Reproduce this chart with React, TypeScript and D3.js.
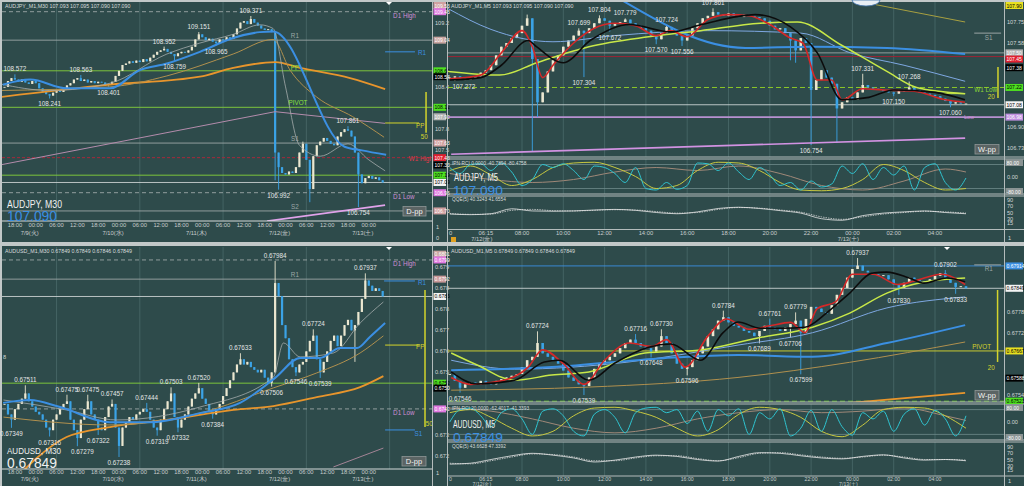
import React, { useEffect } from 'react';
import * as d3 from 'd3';

type P = [number, number];

// ---------- AUDJPY M30 (hours from 7/10 00:00, one close per hour) ----------
const jpyM30Start = -33;
const jpyM30Close = [
  108.40, 108.48, 108.52, 108.50, 108.47, 108.50, 108.46, 108.44, 108.48, 108.45, 108.38,
  108.33, 108.30, 108.28, 108.32, 108.36, 108.33, 108.38, 108.42, 108.45, 108.50, 108.52,
  108.48, 108.50, 108.46, 108.48, 108.45, 108.47, 108.46, 108.44, 108.43, 108.47, 108.55,
  // 7/10
  108.62, 108.70, 108.72, 108.75, 108.73, 108.76, 108.74, 108.78, 108.75, 108.80, 108.84, 108.88,
  108.90, 108.92, 108.88, 108.85, 108.82, 108.86, 108.88, 108.87, 108.90, 108.95, 109.05, 109.12,
  // 7/11
  109.08, 109.04, 109.06, 109.02, 109.00, 109.05, 109.04, 109.08, 109.06, 109.12, 109.20, 109.28,
  109.30, 109.26, 109.33, 109.28, 109.24, 109.20, 109.18, 109.19, 109.15, 107.50, 107.30, 107.22,
  // 7/12
  107.20, 107.24, 107.22, 107.30, 107.50, 107.62, 107.40, 107.00, 107.45, 107.60, 107.65, 107.70,
  107.66, 107.62, 107.60, 107.72, 107.78, 107.82, 107.80, 107.72, 107.50, 107.20, 107.08, 107.15,
  // 7/13
  107.18, 107.14, 107.16, 107.12, 107.09,
];
const jpyM30Peaks: P[] = [[-30, 108.572], [-11, 108.563], [13, 108.952], [23, 109.151], [38, 109.371], [66, 107.861]];
const jpyM30Troughs: P[] = [[-20, 108.241], [-3, 108.401], [16, 108.759], [28, 108.965], [46, 106.992], [69, 106.754]];
const jpyM30Wicks: P[] = [[45, 107.12], [53, 107.65], [55, 106.82]];
const jpyM30Blue: P[] = [[-33.5, 108.43], [-25.6, 108.5], [-15, 108.38], [-2.6, 108.38], [6, 108.63], [13.8, 108.72], [23.3, 108.88], [32.9, 109.07], [40.6, 109.15], [44.4, 109.16], [65, 107.58], [70, 107.53], [77, 107.47]];
const jpyM30Orange: P[] = [[-34.3, 108.26], [-2.6, 108.43], [23.3, 108.54], [32.9, 108.66], [45, 108.74], [52.2, 108.66], [66.6, 108.52], [76.7, 108.37]];
const jpyM30Tan: P[] = [[-34.3, 108.35], [-2.6, 108.4], [13.8, 108.55], [32.9, 108.85], [44.4, 109.05], [49.3, 108.63], [57, 108.26], [67.4, 107.99], [76.4, 107.71]];
const jpyM30Fast: P[] = [[-34.3, 108.44], [-20, 108.35], [-2.6, 108.45], [13.8, 108.85], [23.3, 109.0], [32.9, 109.12], [40.6, 109.25], [44.4, 109.2], [48, 108.4], [52, 107.6], [58, 107.45], [66, 107.62], [72, 107.4], [76.7, 107.25]];
const jpyM30Mauve: P[] = [[-34.3, 107.33], [45, 108.06], [76.7, 107.9]];
const jpyM30Trend: P[] = [[42.7, 106.56], [76.7, 106.78]];
const jpyM30Levels = [109.43, 109.04, 108.62, 108.12, 107.63, 107.43, 107.19, 107.09, 106.95, 106.7];
const jpyM30Short: [number, number, number][] = [[108.88, 76.7, 85.3], [107.905, 76.7, 86.5]];
const jpyM30Bar: P[] = [[88.5, 108.33], [88.5, 107.77]];
const jpyM30Ticks = [109.27, 108.98, 108.69, 108.4, 108.11, 107.82, 107.53, 107.24, 106.95, 106.66];
const jpyM30Tags = [109.535, 109.43, 109.04, 108.62, 108.54, 108.12, 107.99, 107.63, 107.43, 107.33, 107.19, 107.09, 106.95, 106.7];

// ---------- AUDJPY M5 (hours from 7/12 00:00, one close per 15 min) ----------
const jpyM5Start = 4.5;
const jpyM5Close = [
  107.30, 107.31,
  107.28, 107.29, 107.29, 107.31, 107.34, 107.36, 107.40, 107.48, 107.55, 107.58, 107.62, 107.66,
  107.72, 107.78, 107.45, 107.10, 107.18, 107.35, 107.44, 107.48, 107.55, 107.60, 107.64, 107.68,
  107.66, 107.70, 107.74, 107.78, 107.76, 107.72, 107.74, 107.75, 107.77, 107.74, 107.72, 107.70,
  107.68, 107.64, 107.61, 107.66, 107.71, 107.68, 107.64, 107.60, 107.64, 107.70, 107.74, 107.78,
  107.80, 107.83, 107.81, 107.80, 107.82, 107.80, 107.79, 107.81, 107.80, 107.79, 107.78, 107.76,
  107.72, 107.69, 107.70, 107.66, 107.60, 107.52, 107.62, 107.58, 107.20, 107.28, 107.36, 107.30,
  107.25, 107.05, 107.10, 107.14, 107.12, 107.18, 107.24, 107.22, 107.21, 107.20, 107.19, 107.18,
  107.17, 107.19, 107.20, 107.22, 107.20, 107.18, 107.17, 107.16, 107.15, 107.13, 107.11, 107.09,
  107.10, 107.09, 107.09,
];
const jpyM5Peaks: P[] = [[10.75, 107.699], [11.75, 107.804], [13, 107.779], [15, 107.724], [17.25, 107.861], [24.5, 107.331], [26.75, 107.268]];
const jpyM5Troughs: P[] = [[4.75, 107.272], [11, 107.304], [12.25, 107.672], [14.5, 107.57], [15.75, 107.556], [22, 106.754], [26, 107.15], [28.75, 107.06]];
const jpyM5Wicks: P[] = [[8.25, 107.81], [8.5, 106.7], [8.75, 106.98], [21, 107.44], [21.25, 107.42], [23.25, 106.77]];
const jpyM5Red: P[] = [[4.5, 107.29], [6, 107.32], [7, 107.5], [8, 107.68], [8.5, 107.55], [9, 107.3], [9.5, 107.4], [10.5, 107.58], [11.5, 107.7], [12.5, 107.74], [13.5, 107.72], [14.5, 107.64], [15.2, 107.68], [16, 107.63], [17, 107.77], [18, 107.81], [19, 107.8], [20, 107.73], [21, 107.62], [21.6, 107.58], [22.3, 107.28], [23, 107.28], [23.5, 107.12], [24.5, 107.21], [25.5, 107.2], [27, 107.19], [28.5, 107.12], [29.45, 107.1]];
const jpyM5Black: P[] = [[4.5, 107.28], [6, 107.3], [7, 107.4], [8.3, 107.6], [8.7, 107.55], [10, 107.42], [11.3, 107.6], [13.2, 107.73], [15.2, 107.67], [16.7, 107.73], [19.3, 107.81], [21, 107.71], [22.3, 107.5], [23.5, 107.12], [24.8, 107.14], [26, 107.2], [28, 107.18], [29.45, 107.12]];
const jpyM5Lime: P[] = [[4.4, 107.35], [6.92, 107.32], [8.72, 107.42], [11.24, 107.55], [14.13, 107.63], [16.65, 107.68], [19.54, 107.74], [21.34, 107.75], [23.5, 107.56], [25.67, 107.35], [27.11, 107.22], [29.46, 107.17]];
const jpyM5Blue: P[] = [[12.5, 107.96], [18.82, 107.54], [22, 107.55], [25.67, 107.54], [29.46, 107.49]];
const jpyM5Sky: P[] = [[4.4, 107.86], [6.5, 107.69], [9.5, 107.59], [12.5, 107.64], [17, 107.68], [21.5, 107.66], [23.9, 107.5], [26.5, 107.4], [29.46, 107.27]];
const jpyM5Olive: P[] = [[25.14, 107.89], [29.46, 107.75]];
const jpyM5Trend: P[] = [[4.57, 106.68], [29.46, 106.81]];
const jpyM5Levels = [107.5, 107.47, 107.22, 107.08, 106.98];
const jpyM5Short: [number, number, number][] = [[107.66, 29.9, 31.2], [107.17, 28.2, 29.46]];
const jpyM5Bar: P[] = [[31.05, 107.386], [31.05, 107.135]];
const jpyM5Ticks = [107.75, 107.58, 107.41, 107.24, 107.07, 106.9, 106.73];
const jpyM5Tags = [107.9, 107.5, 107.45, 107.38, 107.22, 107.08, 106.98];
const jpyRciFast = [60, 20, 80, 85, 40, 90, 30, -60, -20, 80, 60, 85, 40, -20, 70, 60, 20, -40, 60, -80, -90, -40, -85, -60, 90, 85, 40, 90, 30, -20, 60, 10, -60, -40, -90, -30, -70, -50, 70, 20, 85, -20, 60, 10, 70, -90, 60, 85, -40, -90, -10];
const jpyRciMid = [40, 70, 10, -60, -20, 60, 90, 95, 60, 0, -80, -60, 40, 95, 90, 40, -40, -90, -95, -80, -20, 80, 40, -40, -90, -80];
const jpyRciSlow: P[] = [[4.5, 20], [6.5, -20], [8.5, -40], [10.5, -20], [12.5, 30], [14.5, 60], [16.5, 40], [18.5, 70], [20.5, 20], [22.5, -60], [24.5, -90], [26.5, -30], [28.5, 50], [29.5, 30]];
const jpyQqe = [45, 43, 46, 62, 55, 54, 55, 58, 60, 57, 50, 46, 52, 63, 67, 63, 56, 48, 30, 25, 40, 48, 52, 55, 50, 46];
const jpyQqeSlow = [47, 44, 45, 57, 60, 56, 55, 57, 59, 58, 53, 48, 50, 60, 66, 64, 58, 51, 36, 28, 36, 45, 50, 54, 52, 48];

// ---------- AUDUSD M30 ----------
const usdM30Start = -33;
const usdM30Close = [
  0.6744, 0.674, 0.6738, 0.6742, 0.6744, 0.6746, 0.6748, 0.6745, 0.6743, 0.6741, 0.674,
  0.6738, 0.6735, 0.6734, 0.6738, 0.674, 0.6742, 0.6744, 0.6745, 0.6738, 0.6734, 0.6731,
  0.6738, 0.6742, 0.6745, 0.674, 0.6738, 0.6735, 0.6734, 0.6739, 0.6743, 0.6744, 0.6735,
  // 7/10
  0.6728, 0.6735, 0.6737, 0.6739, 0.6738, 0.674, 0.6741, 0.6742, 0.6741, 0.6738, 0.6735, 0.6734,
  0.6738, 0.6742, 0.6745, 0.6748, 0.6739, 0.6735, 0.6738, 0.674, 0.6743, 0.6746, 0.6748, 0.675,
  // 7/11
  0.6746, 0.6744, 0.6741, 0.674, 0.6742, 0.6744, 0.6747, 0.675, 0.6753, 0.6756, 0.6759, 0.6761,
  0.6759, 0.676, 0.6758, 0.6757, 0.6756, 0.6757, 0.6754, 0.6752, 0.6756, 0.679, 0.6785, 0.6774,
  // 7/12
  0.6769, 0.6761, 0.6758, 0.6756, 0.6759, 0.676, 0.6764, 0.6768, 0.677, 0.6761, 0.6756, 0.676,
  0.6764, 0.6768, 0.677, 0.6766, 0.677, 0.6774, 0.6776, 0.6772, 0.6774, 0.6779, 0.6784, 0.6791,
  // 7/13
  0.6789, 0.6787, 0.6788, 0.6787, 0.67849,
];
const usdM30Peaks: P[] = [[-27, 0.67511], [-15, 0.67475], [-9, 0.67475], [-2, 0.67457], [8, 0.67444], [15, 0.67503], [23, 0.6752], [35, 0.67633], [45, 0.67984], [56, 0.67724], [71, 0.67937]];
const usdM30Troughs: P[] = [[-31, 0.67349], [-20, 0.67316], [-12, 0.67279], [-6, 0.67322], [0, 0.67238], [11, 0.67319], [17, 0.67332], [27, 0.67384], [44, 0.67506], [51, 0.67546], [58, 0.67539]];
const usdM30Wicks: P[] = [[68, 0.676]];
const usdM30Blue: P[] = [[-33.4, 0.67444], [-25.6, 0.67455], [-17, 0.67428], [-2.6, 0.6737], [8.9, 0.6737], [23.3, 0.67405], [34.9, 0.67444], [45, 0.67539], [52.2, 0.67615], [57.9, 0.67615], [63.7, 0.67653], [68.6, 0.67653], [72.3, 0.67695], [76.7, 0.67748]];
const usdM30Orange: P[] = [[-28, 0.6718], [-23.7, 0.67234], [-15.1, 0.67314], [-2.6, 0.67352], [13.7, 0.67379], [33, 0.67417], [44.5, 0.67432], [57, 0.67466], [69.5, 0.67504], [76.2, 0.67546]];
const usdM30Tan: P[] = [[-33.3, 0.6739], [-2.6, 0.6736], [23.3, 0.67405], [44.5, 0.67501], [57, 0.67558], [69.5, 0.67634], [76.2, 0.67699]];
const usdM30Fast: P[] = [[-33.3, 0.67455], [-15.1, 0.67417], [-0.7, 0.67379], [23.3, 0.67428], [44.5, 0.67542], [47.4, 0.67672], [52.2, 0.67619], [61.8, 0.67634], [69.5, 0.67748], [76.2, 0.67828]];
const usdM30Mauve: P[] = [[61.8, 0.672], [76.2, 0.67272]];
const usdM30Levels = [0.67988, 0.67915, 0.67849, 0.67519, 0.67421];
const usdM30Short: [number, number, number][] = [[0.67908, 76.4, 85.3], [0.67341, 76.7, 85.3], [0.67664, 76.7, 86.5]];
const usdM30Bar: P[] = [[88.2, 0.67874], [88.2, 0.67352]];
const usdM30Ticks = [0.6796, 0.6788, 0.678, 0.6772, 0.6764, 0.6756, 0.6748, 0.674, 0.6732, 0.6724];
const usdM30Tags = [0.6801, 0.67988, 0.67915, 0.67849, 0.67519, 0.675, 0.67421];

// ---------- AUDUSD M5 ----------
const usdM5Start = 4.5;
const usdM5Close = [
  0.676, 0.6758,
  0.6756, 0.6757, 0.67575, 0.6757, 0.6758, 0.67575, 0.6757, 0.6758, 0.67585, 0.6759, 0.67595, 0.676,
  0.6762, 0.6764, 0.6765, 0.6769, 0.6766, 0.6765, 0.6764, 0.6763, 0.6761, 0.6759, 0.6758, 0.6757,
  0.67565, 0.6759, 0.67615, 0.6763, 0.6764, 0.6765, 0.6766, 0.67675, 0.6769, 0.677, 0.6769, 0.6768,
  0.67675, 0.67665, 0.6768, 0.6771, 0.6769, 0.6766, 0.6763, 0.67615, 0.6762, 0.6764, 0.6766, 0.6768,
  0.6771, 0.6773, 0.67755, 0.67765, 0.6775, 0.6774, 0.67735, 0.67725, 0.6772, 0.6771, 0.67725, 0.6774,
  0.67735, 0.6773, 0.67725, 0.67735, 0.67745, 0.67755, 0.6772, 0.6776, 0.67795, 0.6779, 0.6778, 0.67775,
  0.678, 0.6783, 0.6785, 0.6788, 0.67905, 0.67915, 0.679, 0.67895, 0.6789, 0.67885, 0.67887, 0.67875,
  0.6786, 0.6785, 0.67865, 0.6788, 0.67875, 0.6787, 0.67868, 0.67875, 0.67885, 0.67893, 0.6788, 0.67865,
  0.67853, 0.67855, 0.67849,
];
const usdM5Peaks: P[] = [[8.75, 0.67724], [13.5, 0.67716], [14.75, 0.6773], [17.75, 0.67784], [20, 0.67761], [21.25, 0.67779], [24.25, 0.67937], [28.5, 0.67902]];
const usdM5Troughs: P[] = [[5, 0.67546], [11, 0.67539], [14.25, 0.67648], [16, 0.67596], [19.5, 0.67689], [21, 0.67706], [21.5, 0.67599], [26.25, 0.6783], [29, 0.67833]];
const usdM5Red: P[] = [[4.57, 0.6759], [5.5, 0.6757], [7, 0.6758], [8.3, 0.6762], [9, 0.6767], [10, 0.6763], [11, 0.6757], [12, 0.6764], [13.2, 0.6769], [14.3, 0.6768], [15, 0.677], [15.9, 0.6762], [17, 0.6771], [17.9, 0.6776], [19, 0.6773], [20, 0.6774], [21, 0.6775], [21.7, 0.6772], [22.3, 0.6779], [23.2, 0.6781], [24, 0.6789], [25, 0.6789], [26.2, 0.6786], [27, 0.6787], [28.3, 0.6789], [29.46, 0.6786]];
const usdM5Black: P[] = [[4.57, 0.67606], [5.83, 0.67571], [7.64, 0.67582], [9.08, 0.67635], [9.8, 0.6764], [11.24, 0.67582], [12.5, 0.67632], [14.13, 0.67678], [15.21, 0.67687], [16.65, 0.6764], [17.74, 0.6772], [18.46, 0.67751], [19.54, 0.67733], [20.62, 0.67733], [21.7, 0.67736], [22.8, 0.6778], [23.87, 0.67835], [24.95, 0.67893], [25.67, 0.67896], [26.75, 0.67879], [27.47, 0.67864], [28.56, 0.67879], [29.46, 0.67868]];
const usdM5Lime: P[] = [[4.57, 0.67661], [5.83, 0.67626], [7.64, 0.67582], [9.44, 0.67597], [11.24, 0.67606], [13.95, 0.67661], [16.65, 0.6767], [19.36, 0.67704], [22.07, 0.67736], [23.87, 0.67777], [25.67, 0.67835], [27.47, 0.67867], [29.46, 0.67879]];
const usdM5Blue: P[] = [[4.57, 0.67611], [9.44, 0.6762], [14.85, 0.67646], [18.46, 0.67655], [22.07, 0.6765], [25.67, 0.6769], [29.46, 0.67742]];
const usdM5Sky: P[] = [[4.57, 0.6764], [7.64, 0.67614], [13.04, 0.67634], [18.46, 0.67684], [22.07, 0.6772], [25.67, 0.67792], [29.46, 0.67824]];
const usdM5Tan: P[] = [[4.57, 0.67553], [11.24, 0.67562], [18.46, 0.6759], [23.87, 0.67634], [29.46, 0.67693]];
const usdM5Orange: P[] = [[23.87, 0.67516], [29.46, 0.67545]];
const usdM5Levels = [0.67914, 0.67849, 0.67667, 0.67521];
const usdM5Short: [number, number, number][] = [[0.67917, 29.9, 31.2]];
const usdM5Bar: P[] = [[31.03, 0.67844], [31.03, 0.67635]];
const usdM5Ticks = [0.679, 0.6784, 0.6778, 0.6772, 0.6766, 0.676, 0.6754];
const usdM5Tags = [0.67914, 0.67849, 0.67667, 0.67588, 0.67521];
const usdRciFast = [0, 80, 90, 40, -30, 60, 85, 20, -80, 70, 85, 40, -60, -90, 50, 80, 30, -70, 60, 90, 95, 60, 80, -10, 70, -60, 80, 40, 85, -80, 60, 20, 85, -90, -40, 75, -60, 80, -30, -85, 60, 20, 70, -60, 50, 85, -20, 75, 20, -90, 40];
const usdRciMid = [60, 80, 30, -40, -90, -60, 40, 90, 95, 70, 30, -40, -90, -50, 50, 95, 80, 30, -60, -95, -20, 80, 95, 90, 40, -40];
const usdRciSlow: P[] = [[4.5, 90], [6.5, 70], [8.5, 20], [10.5, -40], [12.5, -70], [14.5, -40], [16.5, 20], [18.5, 60], [20.5, 80], [22.5, 60], [24.5, 70], [26.5, 90], [28.5, 40], [29.5, 10]];
const usdQqe = [35, 38, 50, 62, 70, 64, 55, 42, 48, 58, 64, 60, 50, 45, 60, 72, 70, 62, 55, 52, 60, 65, 55, 48, 50, 46];
const usdQqeSlow = [38, 36, 46, 58, 68, 66, 58, 46, 46, 55, 62, 62, 53, 46, 56, 70, 72, 65, 58, 54, 58, 64, 58, 50, 50, 48];

// ---------- time axes ----------
const leftHours = d3.range(-30, 73, 6);
const leftDates: [number, string][] = [[-24, '7/9(火)'], [0, '7/10(水)'], [24, '7/11(木)'], [48, '7/12(金)'], [72, '7/13(土)']];
const leftGrid = [-18, 6, 30, 54, 78];
const rightHours = [6.25, 8, 10, 12, 14, 16, 18, 20, 22, 24, 26, 28];
const rightDates: [number, string][] = [[6.25, '7/12(金)'], [24, '7/13(土)']];

const FONT = "'Liberation Sans', Arial, sans-serif";
const BG = '#2e4b4b';
const FRAME = '#c2c8c8';
const EDGE = '#b4bcbc';
const GRID = '#4a6a6a';
const UP = '#ebe7d0';
const DOWN = '#3ba3e6';
const TXT = '#e4e6e6';
const GRAYL = '#9ca6a6';
const GREENL = '#7cc43c';
const PINK = '#cf8fd6';
const YEL = '#d4d42c';
const BLUE = '#3b8fe2';
const CUR = '#c9d1d1';

type Cndl = { t: number; o: number; c: number; hi: number; lo: number };
type Series = { pts: P[]; color: string; w: number; dash?: string; straight?: boolean };
type Level = { p: number; color: string; w?: number; dash?: string; t0?: number; t1?: number };
type Note = { t: number; p: number; text: string; color?: string; dy?: number; dx?: number; size?: number; anchor?: string };
type Box = { x0: number; x1: number; y0: number; y1: number };

function makeCandles(start: number, step: number, closes: number[], extremes: P[]): Cndl[] {
  return closes.map((c, i) => {
    const t = start + i * step;
    const o = i === 0 ? c : closes[i - 1];
    let hi = Math.max(o, c);
    let lo = Math.min(o, c);
    extremes.forEach(([et, v]) => {
      if (Math.abs(et - t) < step / 2) { hi = Math.max(hi, v); lo = Math.min(lo, v); }
    });
    return { t, o, c, hi, lo };
  });
}

const peakNotes = (pts: P[], d: number): Note[] => pts.map(([t, p]) => ({ t, p, text: p.toFixed(d), dy: -3 }));
const troughNotes = (pts: P[], d: number): Note[] => pts.map(([t, p]) => ({ t, p, text: p.toFixed(d), dy: 8 }));
const trunc = (d: number) => (v: number) => (Math.floor(v * 10 ** d + 1e-6) / 10 ** d).toFixed(d);
const stepPts = (vals: number[], start: number, step: number): P[] => vals.map((v, i) => [start + i * step, v]);

function Plot({ id, box, x, y, grid, levels, candles, cw, series, notes }: any) {
  const curved = d3.line<P>().x(d => x(d[0])).y(d => y(d[1])).curve(d3.curveMonotoneX);
  const straight = d3.line<P>().x(d => x(d[0])).y(d => y(d[1]));
  return (
    <g>
      <clipPath id={id}>
        <rect x={box.x0} y={box.y0} width={box.x1 - box.x0} height={box.y1 - box.y0} />
      </clipPath>
      <g clipPath={`url(#${id})`}>
        {grid.map((t: number, i: number) => (
          <line key={'g' + i} x1={x(t)} x2={x(t)} y1={box.y0} y2={box.y1} stroke={GRID} strokeWidth={0.8} />
        ))}
        {(levels || []).map((l: Level, i: number) => (
          <line key={'l' + i} x1={l.t0 === undefined ? box.x0 : x(l.t0)} x2={l.t1 === undefined ? box.x1 : x(l.t1)}
            y1={y(l.p)} y2={y(l.p)} stroke={l.color} strokeWidth={l.w ?? 1} strokeDasharray={l.dash} />
        ))}
        {(candles || []).map((d: Cndl, i: number) => {
          const col = d.c >= d.o ? UP : DOWN;
          const top = y(Math.max(d.o, d.c));
          const bot = y(Math.min(d.o, d.c));
          const cx = x(d.t);
          return (
            <g key={'c' + i}>
              <line x1={cx} x2={cx} y1={y(d.hi)} y2={y(d.lo)} stroke={col} strokeWidth={0.9} />
              <rect x={cx - cw / 2} y={top} width={cw} height={Math.max(0.9, bot - top)} fill={col} />
            </g>
          );
        })}
        {series.map((s: Series, i: number) => (
          <path key={'s' + i} d={(s.straight ? straight : curved)(s.pts) || ''} fill="none"
            stroke={s.color} strokeWidth={s.w} strokeDasharray={s.dash} />
        ))}
      </g>
      {(notes || []).map((n: Note, i: number) => (
        <text key={'n' + i} x={x(n.t) + (n.dx ?? 0)} y={y(n.p) + (n.dy ?? 0)} fill={n.color ?? TXT}
          fontSize={n.size ?? 6.3} textAnchor={n.anchor ?? 'middle'}>{n.text}</text>
      ))}
    </g>
  );
}

function PriceCol({ x0, x1, y, y0, y1, ticks, fmt, tags, tagFmt, tagStyle }: any) {
  const tagY = tags.map((p: number) => Math.max(y0, y(p) - 3.5));
  const free = (v: number) => tagY.every((ty: number) => Math.abs(ty + 3.5 - y(v)) > 6.5);
  return (
    <g>
      {ticks.filter((v: number) => y(v) > y0 + 4 && y(v) < y1 - 3 && free(v)).map((v: number, i: number) => (
        <text key={'t' + i} x={x0 + 2.5} y={y(v) + 2} fontSize={5.6} fill="#d2d6d6">{fmt(v)}</text>
      ))}
      {tags.map((p: number, i: number) => (
        <g key={'b' + i}>
          <rect x={x0 + 1} y={tagY[i]} width={x1 - x0 - 2} height={7} fill={tagStyle[i][0]} />
          <text x={x0 + 2} y={tagY[i] + 5.5} fontSize={5} fill={tagStyle[i][1]}>{tagFmt(p)}</text>
        </g>
      ))}
    </g>
  );
}

function TimeAxis({ x, hours, fmt, dates, y, dy, dateDx, size }: any) {
  return (
    <g fill="#c8cdcd" fontSize={size ?? 5.8} textAnchor="middle">
      {hours.map((h: number, i: number) => <text key={'h' + i} x={x(h)} y={y}>{fmt(h)}</text>)}
      {dates.map(([h, s]: [number, string], i: number) => <text key={'d' + i} x={x(h) + dateDx} y={y + dy}>{s}</text>)}
    </g>
  );
}

function Button({ x, y, w, label }: any) {
  return (
    <g>
      <rect x={x} y={y} width={w} height={9.5} fill="#5b6464" stroke="#8e9696" strokeWidth={0.8} />
      <text x={x + w / 2} y={y + 7.6} fontSize={7.5} fill="#f2f2f2" textAnchor="middle">{label}</text>
    </g>
  );
}

function Title({ x, y, w, size, fill, children }: any) {
  return (
    <text x={x} y={y} fontSize={size} fill={fill} textLength={w} lengthAdjust="spacingAndGlyphs">{children}</text>
  );
}

export default function App() {
  useEffect(() => { document.body.style.margin = '0'; }, []);

  const xL = d3.scaleLinear().domain([0, 72]).range([119, 368.8]);
  const xR = d3.scaleLinear().domain([8, 28]).range([522, 935]);
  const yTL = d3.scaleLinear().domain([109.371, 106.754]).range([16, 207]);
  const yTR = d3.scaleLinear().domain([107.75, 106.73]).range([22, 148]);
  const yBL = d3.scaleLinear().domain([0.67984, 0.67238]).range([261, 457]);
  const yBR = d3.scaleLinear().domain([0.67937, 0.67539]).range([258, 395]);
  const yTR1 = d3.scaleLinear().domain([-100, 100]).range([191.5, 161.5]);
  const yTR2 = d3.scaleLinear().domain([0, 100]).range([228, 197]);
  const yBR1 = d3.scaleLinear().domain([-100, 100]).range([437.5, 406.5]);
  const yBR2 = d3.scaleLinear().domain([0, 100]).range([475, 444]);

  const tl: Box = { x0: 2, x1: 432, y0: 2, y1: 221 };
  const tr: Box = { x0: 448, x1: 1004, y0: 2, y1: 157 };
  const tr1: Box = { x0: 448, x1: 1004, y0: 159, y1: 194 };
  const tr2: Box = { x0: 448, x1: 1004, y0: 196, y1: 229.5 };
  const bl: Box = { x0: 2, x1: 432, y0: 247, y1: 469 };
  const br: Box = { x0: 448, x1: 1004, y0: 247, y1: 402 };
  const br1: Box = { x0: 448, x1: 1004, y0: 404, y1: 440 };
  const br2: Box = { x0: 448, x1: 1004, y0: 442, y1: 476 };

  const G = { color: GRAYL, w: 0.9 };
  const GD = { color: GRAYL, dash: '4,3', w: 0.9 };
  const GR = { color: GREENL };
  const CU = { color: CUR, w: 0.9 };
  const RD = { color: '#a8283a', dash: '3,2' };
  const zip = (ps: number[], st: any[]): Level[] => ps.map((p, i) => ({ p, ...st[i] }));
  const shorts = (rows: [number, number, number][], cols: string[]): Level[] =>
    rows.map(([p, t0, t1], i) => ({ p, t0, t1, color: cols[i], w: 1 }));

  const tlCandles = makeCandles(jpyM30Start, 1, jpyM30Close, [...jpyM30Peaks, ...jpyM30Troughs, ...jpyM30Wicks]);
  const trCandles = makeCandles(jpyM5Start, 0.25, jpyM5Close, [...jpyM5Peaks, ...jpyM5Troughs, ...jpyM5Wicks]);
  const blCandles = makeCandles(usdM30Start, 1, usdM30Close, [...usdM30Peaks, ...usdM30Troughs, ...usdM30Wicks]);
  const brCandles = makeCandles(usdM5Start, 0.25, usdM5Close, [...usdM5Peaks, ...usdM5Troughs]);

  const hh = (h: number) => String(((h % 24) + 24) % 24).padStart(2, '0') + ':00';
  const hhR = (h: number) => (h === 6.25 ? '06:15' : hh(h));

  const tlSeries: Series[] = [
    { pts: jpyM30Mauve, color: '#b48cac', w: 1, straight: true },
    { pts: jpyM30Trend, color: '#e0a2ea', w: 1.6, straight: true },
    { pts: jpyM30Orange, color: '#e8952c', w: 1.8 },
    { pts: jpyM30Tan, color: '#b0904e', w: 1 },
    { pts: jpyM30Fast, color: '#a4acac', w: 0.8 },
    { pts: jpyM30Blue, color: BLUE, w: 2 },
    { pts: jpyM30Bar, color: YEL, w: 1.5, straight: true },
  ];
  const tlLevels = [...zip(jpyM30Levels, [GD, G, GR, GR, G, RD, GR, CU, GD, G]), ...shorts(jpyM30Short, [BLUE, YEL])];
  const tlNotes: Note[] = [
    ...peakNotes(jpyM30Peaks, 3), ...troughNotes(jpyM30Troughs, 3),
    { t: 79, p: jpyM30Levels[0], text: 'D1 High', color: PINK, dy: 6, anchor: 'start' },
    { t: 50.7, p: jpyM30Levels[1], text: 'R1', color: GRAYL, dy: -2 },
    { t: 50.7, p: jpyM30Levels[2], text: 'PP', color: '#8ae040', dy: -1 },
    { t: 51.6, p: jpyM30Levels[3], text: 'PIVOT', color: '#8ae040', dy: -2 },
    { t: 50.7, p: jpyM30Levels[4], text: 'S1', color: GRAYL, dy: -2 },
    { t: 83.5, p: jpyM30Levels[5], text: 'W1 High', color: '#e23848', dy: 3, anchor: 'start' },
    { t: 79, p: jpyM30Levels[8], text: 'D1 Low', color: PINK, dy: 6, anchor: 'start' },
    { t: 50.7, p: jpyM30Levels[9], text: 'S2', color: GRAYL, dy: -2 },
    { t: 86.2, p: jpyM30Short[0][0], text: 'R1', color: BLUE, dy: 3, anchor: 'start' },
    { t: 85.6, p: jpyM30Short[1][0], text: 'PP', color: YEL, dy: 5, anchor: 'start' },
    { t: 88, p: jpyM30Bar[1][1], text: '50', color: YEL, dy: 6 },
  ];

  const trSeries: Series[] = [
    { pts: jpyM5Trend, color: '#d292e2', w: 1.6, straight: true },
    { pts: jpyM5Olive, color: '#a8a040', w: 1, straight: true },
    { pts: jpyM5Sky, color: '#7ea8e2', w: 1 },
    { pts: jpyM5Blue, color: BLUE, w: 2 },
    { pts: jpyM5Lime, color: '#c8e848', w: 1.5 },
    { pts: jpyM5Red, color: '#d42828', w: 1.6 },
    { pts: jpyM5Black, color: '#0c0c0c', w: 1.6 },
    { pts: jpyM5Bar, color: YEL, w: 1.5, straight: true },
  ];
  const trLevels = [
    ...zip(jpyM5Levels, [G, { color: '#9c2434' }, { color: '#8cc828', dash: '5,3' }, CU, { color: '#b890d0', w: 1.6 }]),
    ...shorts(jpyM5Short, [GRAYL, '#c8e848']),
  ];
  const trNotes: Note[] = [
    ...peakNotes(jpyM5Peaks, 3),
    ...troughNotes(jpyM5Troughs, 3).map((n, i) => (i === 0 ? { ...n, dx: 9 } : n)),
    { t: 29.9, p: jpyM5Levels[2], text: 'W1 Low', color: '#8cd838', dy: 5, anchor: 'start' },
    { t: 29.4, p: jpyM5Levels[4], text: 'Low', color: PINK, dy: 1.5, anchor: 'start', size: 5.5 },
    { t: 30.6, p: jpyM5Short[0][0], text: 'S1', color: GRAYL, dy: 6.5 },
    { t: 30.9, p: jpyM5Bar[1][1], text: '20', color: YEL, dy: 1, anchor: 'end' },
  ];

  const blSeries: Series[] = [
    { pts: usdM30Mauve, color: '#a48496', w: 1, straight: true },
    { pts: usdM30Orange, color: '#e8952c', w: 1.8 },
    { pts: usdM30Tan, color: '#b0904e', w: 1 },
    { pts: usdM30Fast, color: '#a4acac', w: 0.8 },
    { pts: usdM30Blue, color: BLUE, w: 2 },
    { pts: usdM30Bar, color: YEL, w: 1.5, straight: true },
  ];
  const blLevels = [...zip(usdM30Levels, [GD, G, CU, GR, GD]), ...shorts(usdM30Short, [BLUE, BLUE, YEL])];
  const blNotes: Note[] = [
    ...peakNotes(usdM30Peaks, 5),
    ...troughNotes(usdM30Troughs, 5).map((n, i) => (i === 2 ? { ...n, dx: 5 } : n)),
    { t: 79, p: usdM30Levels[0], text: 'D1 High', color: PINK, dy: 6, anchor: 'start' },
    { t: 50.7, p: usdM30Levels[1], text: 'R1', color: GRAYL, dy: -2 },
    { t: 79, p: usdM30Levels[4], text: 'D1 Low', color: PINK, dy: 6, anchor: 'start' },
    { t: 86.2, p: usdM30Short[0][0], text: 'R1', color: BLUE, dy: 4, anchor: 'start' },
    { t: 85.2, p: usdM30Short[1][0], text: 'S1', color: BLUE, dy: 6, anchor: 'start' },
    { t: 85.6, p: usdM30Short[2][0], text: 'PP', color: YEL, dy: 4, anchor: 'start' },
    { t: 88.4, p: usdM30Bar[1][1], text: '50', color: YEL, dy: -1, anchor: 'start' },
  ];

  const brSeries: Series[] = [
    { pts: usdM5Orange, color: '#e8952c', w: 1.8, straight: true },
    { pts: usdM5Tan, color: '#b0904e', w: 1 },
    { pts: usdM5Sky, color: '#7ea8e2', w: 1 },
    { pts: usdM5Blue, color: BLUE, w: 2 },
    { pts: usdM5Lime, color: '#c8e848', w: 1.5 },
    { pts: usdM5Red, color: '#d42828', w: 1.6 },
    { pts: usdM5Black, color: '#0c0c0c', w: 1.6 },
    { pts: usdM5Bar, color: YEL, w: 1.5, straight: true },
  ];
  const brLevels = [
    ...zip(usdM5Levels, [{ color: BLUE, w: 0.9 }, CU, { color: '#c8c830' }, { color: '#6cc828', dash: '5,3' }]),
    ...shorts(usdM5Short, [GRAYL]),
  ];
  const brNotes: Note[] = [
    ...peakNotes(usdM5Peaks, 5), ...troughNotes(usdM5Troughs, 5),
    { t: 29.8, p: usdM5Levels[2], text: 'PIVOT', color: YEL, dy: -2, anchor: 'start' },
    { t: 30.9, p: usdM5Bar[1][1], text: '20', color: YEL, dy: 8, anchor: 'end' },
    { t: 30.6, p: usdM5Short[0][0], text: 'R1', color: GRAYL, dy: 6 },
  ];

  const oscSeries = (fast: number[], mid: number[], slow: P[]): Series[] => [
    { pts: slow, color: '#a08878', w: 1 },
    { pts: stepPts(mid, 4.5, 1), color: '#c8c840', w: 1 },
    { pts: stepPts(fast, 4.5, 0.5), color: '#2ec4d0', w: 1 },
  ];
  const qqeSeries = (a: number[], b: number[]): Series[] => [
    { pts: stepPts(b, 4.5, 1), color: '#d4d4d4', w: 0.8, dash: '1.5,1' },
    { pts: stepPts(a, 4.5, 1), color: '#e8e8e8', w: 0.8 },
  ];
  const rciLevels: Level[] = [{ p: 80, color: '#6f8a8a', w: 0.8 }, { p: -80, color: '#6f8a8a', w: 0.8 }];

  const hdr = { fontSize: 5.3, fill: '#d8dcdc' };

  const tlTagStyle = [['#d0a0a0', '#fff'], ['#e078e0', '#fff'], ['#c8a4a0', '#fff'], ['#4ee020', '#000'], ['#000', '#fff'], ['#4ee020', '#000'], ['#b4b4b4', '#fff'], ['#d0a0a0', '#fff'], ['#e02030', '#fff'], ['#000', '#fff'], ['#4ee020', '#000'], ['#f4f4f4', '#000'], ['#e078e0', '#fff'], ['#d0a0a0', '#fff']];
  const trTagStyle = [['#e8e020', '#000'], ['#b4b4b4', '#fff'], ['#e02030', '#fff'], ['#000', '#fff'], ['#4ee020', '#000'], ['#f4f4f4', '#000'], ['#c090e0', '#fff']];
  const blTagStyle = [['#c8a4a0', '#fff'], ['#e078e0', '#fff'], ['#c89898', '#fff'], ['#f4f4f4', '#000'], ['#4ee020', '#000'], ['#000', '#fff'], ['#e078e0', '#fff']];
  const brTagStyle = [['#3b8fe2', '#fff'], ['#f4f4f4', '#000'], ['#e8e020', '#000'], ['#000', '#fff'], ['#4ee020', '#000']];

  return (
    <svg width={1024} height={486} style={{ display: 'block', position: 'absolute', left: 0, top: 0 }} fontFamily={FONT}>
      <rect width={1024} height={486} fill={FRAME} />
      <rect x={2} y={2} width={445} height={240} fill={BG} />
      <rect x={448} y={2} width={576} height={240} fill={BG} />
      <rect x={2} y={246} width={445} height={240} fill={BG} />
      <rect x={448} y={246} width={576} height={240} fill={BG} />

      {/* AUDJPY M30 */}
      <Plot id="ctl" box={tl} x={xL} y={yTL} grid={leftGrid} levels={tlLevels} candles={tlCandles} cw={2.2} series={tlSeries} notes={tlNotes} />
      <line x1={2} x2={432} y1={221} y2={221} stroke="#d4dada" strokeWidth={1.2} />
      <line x1={432.5} x2={432.5} y1={2} y2={242} stroke={EDGE} />
      <TimeAxis x={xL} hours={leftHours} fmt={hh} dates={leftDates} y={227} dy={7.5} dateDx={-6} />
      <PriceCol x0={432.5} x1={447} y={yTL} y0={2} y1={221} ticks={jpyM30Ticks} fmt={trunc(1)} tags={jpyM30Tags} tagFmt={(v: number) => v.toFixed(2)} tagStyle={tlTagStyle} />
      <text x={436} y={229} fontSize={5.6} fill="#d2d6d6">1</text>
      <text x={436} y={240} fontSize={5.6} fill="#d2d6d6">0</text>
      <text x={5} y={8} {...hdr}>AUDJPY_M1,M30  107.093 107.095 107.090 107.090</text>
      <Title x={7} y={207.5} w={55} size={10.5} fill="#f0f0f0">AUDJPY, M30</Title>
      <Title x={7} y={221} w={50} size={14} fill={BLUE}>107.090</Title>
      <Button x={403} y={206.5} w={23} label="D-pp" />
      <path d="M386,2 L392,2 L389,5 Z" fill="#fff" />

      {/* AUDJPY M5 */}
      <Plot id="ctr" box={tr} x={xR} y={yTR} grid={rightHours} levels={trLevels} candles={trCandles} cw={2.6} series={trSeries} notes={trNotes} />
      <Plot id="ctr1" box={tr1} x={xR} y={yTR1} grid={rightHours} levels={rciLevels} series={oscSeries(jpyRciFast, jpyRciMid, jpyRciSlow)} />
      <Plot id="ctr2" box={tr2} x={xR} y={yTR2} grid={rightHours} series={qqeSeries(jpyQqe, jpyQqeSlow)} />
      {[157, 159, 194, 196, 229.5].map(v => <line key={v} x1={448} x2={1024} y1={v} y2={v} stroke={EDGE} strokeWidth={1.1} />)}
      <line x1={1004.5} x2={1004.5} y1={2} y2={242} stroke={EDGE} />
      <line x1={447.5} x2={447.5} y1={2} y2={242} stroke={EDGE} />
      <TimeAxis x={xR} hours={rightHours} fmt={hhR} dates={rightDates} y={235} dy={6} dateDx={-4} />
      <PriceCol x0={1004.5} x1={1024} y={yTR} y0={2} y1={157} ticks={jpyM5Ticks} fmt={trunc(2)} tags={jpyM5Tags} tagFmt={(v: number) => v.toFixed(2)} tagStyle={trTagStyle} />
      <PriceCol x0={1004.5} x1={1024} y={yTR1} y0={159} y1={194} ticks={[0]} fmt={() => '0.00'} tags={[100, -100]} tagFmt={(v: number) => (v > 0 ? '80.00' : '-80.00')} tagStyle={[['#8a9494', '#fff'], ['#8a9494', '#fff']]} />
      <PriceCol x0={1004.5} x1={1024} y={yTR2} y0={196} y1={229} ticks={[90, 70, 50, 30, 15]} fmt={(v: number) => String(v)} tags={[]} tagFmt={String} tagStyle={[]} />
      <text x={1008} y={240} fontSize={5.6} fill="#d2d6d6">1</text>
      <text x={451} y={8} {...hdr}>AUDJPY_M1,M5  107.093 107.095 107.090 107.090</text>
      <text x={452} y={164.5} {...hdr} fontSize={4.8}>IPN-RCI 0.0000 -40.7894 -80.4758</text>
      <text x={452} y={201} {...hdr} fontSize={4.8}>QQE(5) 40.3243 41.6554</text>
      <Title x={454} y={181} w={44} size={10} fill="#f0f0f0">AUDJPY, M5</Title>
      <Title x={453} y={195} w={50} size={13.5} fill={BLUE}>107.090</Title>
      <text x={449} y={235} fontSize={5.8} fill="#c8cdcd">0</text>
      <rect x={451} y={237} width={5} height={5} fill="#e0a020" />
      <Button x={975} y={144.5} w={24} label="W-pp" />
      <path d="M852,0 A14,6 0 0 0 880,0 Z" fill="#e8eef4" stroke="#3b6ea8" strokeWidth={0.8} />

      {/* AUDUSD M30 */}
      <Plot id="cbl" box={bl} x={xL} y={yBL} grid={leftGrid} levels={blLevels} candles={blCandles} cw={2.2} series={blSeries} notes={blNotes} />
      <line x1={2} x2={432} y1={469} y2={469} stroke="#d4dada" strokeWidth={1.2} />
      <line x1={432.5} x2={432.5} y1={246} y2={486} stroke={EDGE} />
      <TimeAxis x={xL} hours={leftHours} fmt={hh} dates={leftDates} y={474} dy={7} dateDx={-6} />
      <PriceCol x0={432.5} x1={447} y={yBL} y0={247} y1={469} ticks={usdM30Ticks} fmt={trunc(3)} tags={usdM30Tags} tagFmt={(v: number) => v.toFixed(4)} tagStyle={blTagStyle} />
      <text x={436} y={475} fontSize={5.6} fill="#d2d6d6">1</text>
      <text x={5} y={253} {...hdr}>AUDUSD_M1,M30  0.67849 0.67849 0.67846 0.67849</text>
      <Title x={7} y={454} w={54} size={9.5} fill="#f0f0f0">AUDUSD, M30</Title>
      <Title x={7} y={468} w={50} size={14} fill="#f0f0f0">0.67849</Title>
      <text x={3} y={359} fontSize={5.6} fill="#d2d6d6">8</text>
      <Button x={402} y={456.5} w={24} label="D-pp" />
      <path d="M386,247 L392,247 L389,250 Z" fill="#fff" />

      {/* AUDUSD M5 */}
      <Plot id="cbr" box={br} x={xR} y={yBR} grid={rightHours} levels={brLevels} candles={brCandles} cw={2.6} series={brSeries} notes={brNotes} />
      <Plot id="cbr1" box={br1} x={xR} y={yBR1} grid={rightHours} levels={rciLevels} series={oscSeries(usdRciFast, usdRciMid, usdRciSlow)} />
      <Plot id="cbr2" box={br2} x={xR} y={yBR2} grid={rightHours} series={qqeSeries(usdQqe, usdQqeSlow)} />
      {[402, 404, 440, 442, 476].map(v => <line key={v} x1={448} x2={1024} y1={v} y2={v} stroke={EDGE} strokeWidth={1.1} />)}
      <line x1={1004.5} x2={1004.5} y1={246} y2={486} stroke={EDGE} />
      <line x1={447.5} x2={447.5} y1={246} y2={486} stroke={EDGE} />
      <TimeAxis x={xR} hours={rightHours} fmt={hhR} dates={rightDates} y={480.5} dy={5} dateDx={-4} size={5.2} />
      <PriceCol x0={1004.5} x1={1024} y={yBR} y0={247} y1={402} ticks={usdM5Ticks} fmt={trunc(4)} tags={usdM5Tags} tagFmt={(v: number) => v.toFixed(5)} tagStyle={brTagStyle} />
      <PriceCol x0={1004.5} x1={1024} y={yBR1} y0={404} y1={440} ticks={[0]} fmt={() => '0.00'} tags={[100, -100]} tagFmt={(v: number) => (v > 0 ? '80.00' : '-80.00')} tagStyle={[['#8a9494', '#fff'], ['#8a9494', '#fff']]} />
      <PriceCol x0={1004.5} x1={1024} y={yBR2} y0={442} y1={476} ticks={[90, 70, 50, 30, 15]} fmt={(v: number) => String(v)} tags={[]} tagFmt={String} tagStyle={[]} />
      <text x={1008} y={483} fontSize={5.6} fill="#d2d6d6">1</text>
      <text x={451} y={253} {...hdr}>AUDUSD_M1,M5  0.67849 0.67849 0.67846 0.67849</text>
      <text x={452} y={410} {...hdr} fontSize={4.8}>IPN-RCI 20.0000 -62.4017 -41.3393</text>
      <text x={452} y={447.5} {...hdr} fontSize={4.8}>QQE(5) 43.6628 47.3392</text>
      <Title x={453} y={428} w={42} size={10} fill="#f0f0f0">AUDUSD, M5</Title>
      <Title x={453} y={442} w={50} size={13.5} fill={BLUE}>0.67849</Title>
      <text x={449} y={480.5} fontSize={5.2} fill="#c8cdcd">0</text>
      <Button x={975} y={390.5} w={24} label="W-pp" />
      <path d="M944,247 L950,247 L947,250 Z" fill="#fff" />
    </svg>
  );
}
